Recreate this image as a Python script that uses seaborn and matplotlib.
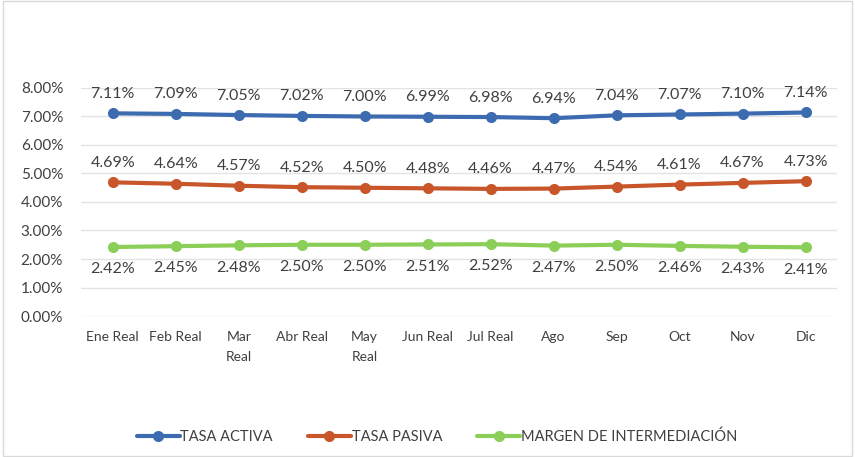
import pandas as pd
import matplotlib.pyplot as plt
import seaborn as sns
from matplotlib.patches import Rectangle
from matplotlib.ticker import FuncFormatter

meses = ['Ene Real', 'Feb Real', 'Mar\nReal', 'Abr Real', 'May\nReal', 'Jun Real',
         'Jul Real', 'Ago', 'Sep', 'Oct', 'Nov', 'Dic']
tasa_activa = [7.11, 7.09, 7.05, 7.02, 7.00, 6.99, 6.98, 6.94, 7.04, 7.07, 7.10, 7.14]
tasa_pasiva = [4.69, 4.64, 4.57, 4.52, 4.50, 4.48, 4.46, 4.47, 4.54, 4.61, 4.67, 4.73]
margen = [2.42, 2.45, 2.48, 2.50, 2.50, 2.51, 2.52, 2.47, 2.50, 2.46, 2.43, 2.41]

series = ['TASA ACTIVA', 'TASA PASIVA', 'MARGEN DE INTERMEDIACIÓN']
colores = ['#3d6bb0', '#c8562a', '#8ccf58']

sns.set_theme(style='white')
plt.rcParams['font.family'] = ['Lato', 'DejaVu Sans']

df = pd.DataFrame({
    'x': list(range(len(meses))) * 3,
    'valor': tasa_activa + tasa_pasiva + margen,
    'serie': [s for s in series for _ in meses],
})

fig = plt.figure(figsize=(8.55, 4.57), dpi=100)
ax = fig.add_axes([0.095, 0.3085, 0.884, 0.499])

sns.lineplot(data=df, x='x', y='valor', hue='serie', hue_order=series,
             palette=colores, marker='o', markersize=8, markeredgewidth=0,
             linewidth=3, ax=ax, legend=True)

# etiquetas de datos
for vals, dy in [(tasa_activa, 9), (tasa_pasiva, 9), (margen, -11)]:
    for i, v in enumerate(vals):
        ax.annotate(f'{v:.2f}%', (i, v), xytext=(0, dy), textcoords='offset points',
                    ha='center', va='bottom' if dy > 0 else 'top',
                    fontsize=11.5, color='#404040')

ax.set_xlim(-0.5, len(meses) - 0.5)
ax.set_ylim(0, 8)
ax.set_yticks([0, 1, 2, 3, 4, 5, 6, 7, 8])
ax.yaxis.set_major_formatter(FuncFormatter(lambda v, p: f'{v:.2f}%'))
ax.set_xticks(range(len(meses)))
ax.set_xticklabels(meses, fontsize=10, color='#404040', linespacing=1.8)
ax.tick_params(axis='y', labelsize=11, labelcolor='#404040', length=0, pad=13)
ax.tick_params(axis='x', length=0, pad=11)
ax.grid(axis='y', color='#e3e3e3', linewidth=1)
ax.set_axisbelow(True)
for s in ax.spines.values():
    s.set_visible(False)
ax.set_xlabel('')
ax.set_ylabel('')

handles, labels = ax.get_legend_handles_labels()
ax.get_legend().remove()
fig.legend(handles, labels, loc='center', bbox_to_anchor=(0.511, 0.044), ncol=3,
           frameon=False, fontsize=10.5, handlelength=2.95, columnspacing=2.4,
           handletextpad=0.05, labelcolor='#404040')

fig.patches.append(Rectangle((0.003, 0.003), 0.994, 0.994, transform=fig.transFigure,
                             fill=False, edgecolor='#d9d9d9', linewidth=1))

fig.savefig('out.png', dpi=100)
